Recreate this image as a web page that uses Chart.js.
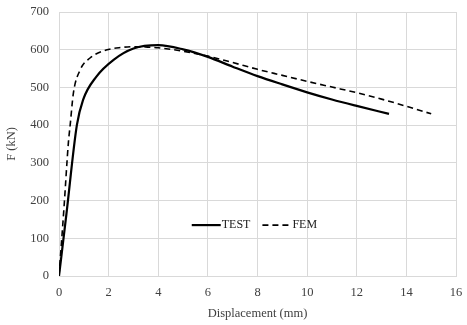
<!DOCTYPE html>
<html>
<head>
<meta charset="utf-8">
<script src="https://cdn.jsdelivr.net/npm/chart.js@4.4.0/dist/chart.umd.min.js"></script>
<style>
  html, body { margin: 0; padding: 0; background: #fff; }
  #wrap { width: 467px; height: 325px; }
</style>
</head>
<body>
<div id="wrap"><canvas id="myChart"></canvas></div>
<script>
// values
const testX = [0, 0.3, 0.72, 0.97, 1.5, 2.2, 3.0, 4.0, 5.0, 6.0, 7.0, 8.0, 9.0, 10.0, 11.0, 12.0, 13.3];
const testY = [0, 165, 400, 467, 528, 573, 603, 612, 601, 581, 555, 530, 508, 487, 468, 451, 430];

const femX = [0, 0.2, 0.38, 0.45, 0.58, 0.85, 1.25, 1.9, 2.5, 3.0, 3.5, 4.0, 5.0, 6.0, 7.0, 8.0, 9.0, 10.0, 11.0, 12.0, 13.0, 14.0, 15.0];
const femY = [0, 180, 355, 400, 485, 546, 578, 599, 606, 608, 607, 605, 596, 583, 566, 548, 532, 516, 501, 486, 469, 450, 430];

const xTicks = [0, 2, 4, 6, 8, 10, 12, 14, 16];
const yTicks = [0, 100, 200, 300, 400, 500, 600, 700];

function toPoints(xs, ys) {
  return xs.map((x, i) => ({ x: x, y: ys[i] }));
}

const font = 'Liberation Serif';
const ctx = document.getElementById('myChart').getContext('2d');

// legend drawn inside the plot area, like the original
const innerLegend = {
  id: 'innerLegend',
  afterDatasetsDraw(chart) {
    const c = chart.ctx;
    const xs = chart.scales.x;
    const ys = chart.scales.y;
    const yMid = ys.getPixelForValue(135);
    let x = xs.getPixelForValue(5.35);
    c.save();
    c.font = '12px "' + font + '"';
    c.textBaseline = 'middle';
    chart.data.datasets.forEach((ds) => {
      c.strokeStyle = ds.borderColor;
      c.lineWidth = ds.borderWidth;
      c.setLineDash(ds.borderDash || []);
      c.beginPath();
      c.moveTo(x, yMid);
      c.lineTo(x + 29, yMid);
      c.stroke();
      c.setLineDash([]);
      c.fillStyle = '#222';
      c.fillText(ds.label, x + 30, yMid);
      x += 30 + c.measureText(ds.label).width + 12;
    });
    c.restore();
  }
};

new Chart(ctx, {
  type: 'scatter',
  data: {
    datasets: [
      {
        label: 'TEST',
        data: toPoints(testX, testY),
        showLine: true,
        borderColor: '#000',
        borderWidth: 2.2,
        pointRadius: 0,
        cubicInterpolationMode: 'monotone',
      },
      {
        label: 'FEM',
        data: toPoints(femX, femY),
        showLine: true,
        borderColor: '#000',
        borderWidth: 1.6,
        borderDash: [6, 4],
        pointRadius: 0,
        cubicInterpolationMode: 'monotone',
      },
    ],
  },
  options: {
    responsive: true,
    maintainAspectRatio: false,
    animation: { duration: 0 },
    layout: { padding: { top: 12, right: 11, left: 0, bottom: 0 } },
    plugins: {
      legend: { display: false },
      tooltip: { enabled: false },
    },
    scales: {
      x: {
        type: 'linear',
        min: 0,
        max: 16,
        afterBuildTicks: (axis) => { axis.ticks = xTicks.map((v) => ({ value: v })); },
        afterFit: (axis) => {
          axis.height = 49;
          axis.paddingLeft = 0;
          axis.paddingRight = 0;
        },
        grid: { color: '#d9d9d9', drawTicks: false },
        border: { color: '#d9d9d9' },
        ticks: { color: '#404040', font: { family: font, size: 12.5 }, padding: 9 },
        title: { display: true, text: 'Displacement (mm)', color: '#404040', font: { family: font, size: 12.5 }, padding: { top: 2 } },
      },
      y: {
        type: 'linear',
        min: 0,
        max: 700,
        afterBuildTicks: (axis) => { axis.ticks = yTicks.map((v) => ({ value: v })); },
        afterFit: (axis) => {
          axis.width = 59;
          axis.paddingTop = 0;
          axis.paddingBottom = 0;
        },
        grid: { color: '#d9d9d9', drawTicks: false },
        border: { color: '#d9d9d9' },
        ticks: { color: '#404040', font: { family: font, size: 12.5 }, padding: 10 },
        title: { display: true, text: 'F (kN)', color: '#404040', font: { family: font, size: 12.5 }, padding: { bottom: 0 } },
      },
    },
  },
  plugins: [innerLegend],
});
</script>
</body>
</html>
